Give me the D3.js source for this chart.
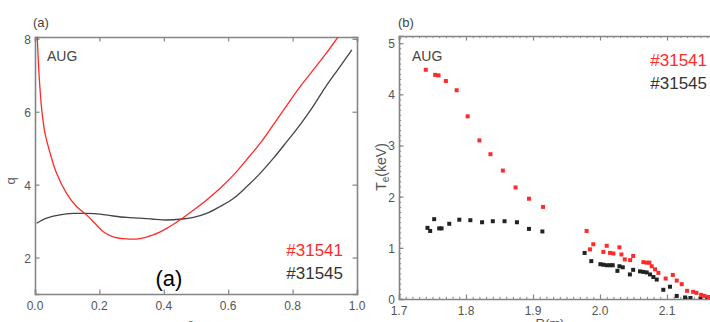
<!DOCTYPE html>
<html>
<head>
<meta charset="utf-8">
<script src="https://cdn.jsdelivr.net/npm/d3@7"></script>
<style>
  body { margin: 0; background: #fff; }
  svg { display: block; font-family: 'Liberation Sans', Arial, sans-serif; }
</style>
</head>
<body>
<div id="chart"></div>
<script>
// panel (a): safety factor q vs rho_tor
const rhoRed = [0.007, 0.013, 0.021, 0.031, 0.047, 0.067, 0.098, 0.129, 0.16, 0.186, 0.212, 0.243, 0.285, 0.326, 0.367, 0.409, 0.45, 0.492, 0.533, 0.575, 0.616, 0.657, 0.699, 0.74, 0.78, 0.82, 0.86, 0.90, 0.941]
const qRed = [8.05, 6.96, 6.05, 5.41, 4.86, 4.31, 3.76, 3.40, 3.17, 2.94, 2.71, 2.57, 2.51, 2.52, 2.62, 2.80, 3.03, 3.30, 3.58, 3.90, 4.26, 4.68, 5.13, 5.64, 6.15, 6.65, 7.1, 7.55, 8.05]
const rhoBlack = [0.005, 0.036, 0.078, 0.119, 0.16, 0.202, 0.243, 0.285, 0.326, 0.367, 0.409, 0.45, 0.492, 0.533, 0.575, 0.616, 0.657, 0.699, 0.74, 0.782, 0.823, 0.86, 0.90, 0.94, 0.984]
const qBlack = [2.94, 3.08, 3.17, 3.21, 3.21, 3.19, 3.14, 3.10, 3.08, 3.05, 3.03, 3.05, 3.10, 3.21, 3.40, 3.62, 3.94, 4.31, 4.72, 5.18, 5.64, 6.1, 6.65, 7.15, 7.7]

// panel (b): electron temperature vs R
const rRed = [1.740, 1.754, 1.759, 1.770, 1.786, 1.8025, 1.820, 1.8365, 1.855, 1.874, 1.894, 1.915,
  1.980, 1.985, 1.990, 2.005, 2.010, 2.015, 2.020, 2.029, 2.032, 2.037, 2.045, 2.0495, 2.0647, 2.0697, 2.0737,
  2.0772, 2.0822, 2.0872, 2.098, 2.1087, 2.1145, 2.122, 2.130, 2.139, 2.144, 2.151, 2.156, 2.162, 2.168]
const teRed = [4.48, 4.38, 4.37, 4.26, 4.08, 3.57, 3.10, 2.83, 2.51, 2.18, 1.96, 1.80,
  1.33, 0.97, 1.07, 0.92, 1.04, 0.90, 0.89, 1.01, 0.87, 0.775, 0.76, 0.84, 0.72, 0.71, 0.71,
  0.64, 0.58, 0.51, 0.40, 0.47, 0.36, 0.29, 0.16, 0.14, 0.12, 0.08, 0.06, 0.04, 0.03]
const rBlack = [1.7425, 1.7465, 1.7525, 1.760, 1.7635, 1.775, 1.790, 1.8065, 1.824, 1.840, 1.8575, 1.876, 1.894, 1.914,
  1.977, 1.987, 2.0006, 2.005, 2.010, 2.015, 2.019, 2.026, 2.029, 2.034, 2.0446, 2.0495, 2.0597, 2.0647, 2.0697,
  2.0747, 2.0797, 2.0847, 2.0945, 2.1045, 2.1145, 2.127, 2.135, 2.150, 2.160]
const teBlack = [1.39, 1.33, 1.56, 1.38, 1.38, 1.47, 1.55, 1.54, 1.50, 1.52, 1.52, 1.50, 1.37, 1.32,
  0.90, 0.74, 0.68, 0.67, 0.66, 0.66, 0.66, 0.55, 0.64, 0.62, 0.48, 0.57, 0.54, 0.53, 0.52,
  0.48, 0.43, 0.38, 0.18, 0.24, 0.06, 0.03, 0.02, 0.01, 0.01]

const xTicksA = [0, 0.2, 0.4, 0.6, 0.8, 1.0]
const yTicksA = [2, 4, 6, 8]
const xTicksB = [1.7, 1.8, 1.9, 2.0, 2.1]
const yTicksB = [0, 1, 2, 3, 4, 5]
const shots = ['#31541', '#31545']

const red = '#ff2a2a'
const dark = '#333'
const frameColor = '#858585'
const labelColor = '#555'

const svg = d3.select('#chart')
  .append('svg')
  .attr('width', 710)
  .attr('height', 322)

// Scales for both panels (panel b runs past the right edge, as in the source)
const xA = d3.scaleLinear().domain([0, 1]).range([35, 357])
const yA = d3.scaleLinear().domain([1, 8.05]).range([294, 37])
const xB = d3.scaleLinear().domain([1.7, 2.2]).range([399, 734])
const yB = d3.scaleLinear().domain([0, 5.14]).range([299, 36])

// Draw inward ticks on all four sides of a frame
function frameAxes(x, y, xMajor, yMajor, xMinorStep, yMinorStep, fmtX, fmtY) {
  const [x0, x1] = x.range()
  const [y0, y1] = y.range()
  const g = svg.append('g')
  const tl = 4.5

  const axes = [
    { gen: d3.axisBottom(x).tickValues(xMajor), tr: `translate(0,${y0})` },
    { gen: d3.axisTop(x).tickValues(xMajor), tr: `translate(0,${y1})` },
    { gen: d3.axisLeft(y).tickValues(yMajor), tr: `translate(${x0},0)` },
    { gen: d3.axisRight(y).tickValues(yMajor), tr: `translate(${x1},0)` }
  ]
  axes.forEach(a => {
    g.append('g')
      .attr('transform', a.tr)
      .call(a.gen.tickSize(-tl).tickFormat(''))
      .call(s => s.select('.domain').attr('stroke', frameColor).attr('stroke-width', 1.6))
      .call(s => s.selectAll('.tick line').attr('stroke', frameColor).attr('stroke-width', 1.2))
  })

  // minor ticks
  if (xMinorStep) {
    const n = Math.round((x.domain()[1] - x.domain()[0]) / xMinorStep)
    const vals = d3.range(n + 1).map(i => x.domain()[0] + i * xMinorStep)
    ;[y0, y1].forEach((yy, k) => {
      g.append('g')
        .attr('transform', `translate(0,${yy})`)
        .call((k === 0 ? d3.axisBottom(x) : d3.axisTop(x)).tickValues(vals).tickSize(-2.2).tickFormat(''))
        .call(s => s.select('.domain').remove())
        .call(s => s.selectAll('.tick line').attr('stroke', frameColor).attr('stroke-width', 1))
    })
  }
  if (yMinorStep) {
    const n = Math.round((y.domain()[1] - y.domain()[0]) / yMinorStep)
    const vals = d3.range(n + 1).map(i => y.domain()[0] + i * yMinorStep)
    ;[x0, x1].forEach((xx, k) => {
      g.append('g')
        .attr('transform', `translate(${xx},0)`)
        .call((k === 0 ? d3.axisLeft(y) : d3.axisRight(y)).tickValues(vals).tickSize(-2.2).tickFormat(''))
        .call(s => s.select('.domain').remove())
        .call(s => s.selectAll('.tick line').attr('stroke', frameColor).attr('stroke-width', 1))
    })
  }

  // tick labels
  g.selectAll('.xlab')
    .data(xMajor)
    .enter()
    .append('text')
    .attr('x', d => x(d))
    .attr('y', y0 + 16)
    .attr('text-anchor', 'middle')
    .attr('font-size', 12)
    .attr('fill', labelColor)
    .text(fmtX)
  g.selectAll('.ylab')
    .data(yMajor)
    .enter()
    .append('text')
    .attr('x', x0 - 4)
    .attr('y', d => y(d) + 5)
    .attr('text-anchor', 'end')
    .attr('font-size', 12)
    .attr('fill', labelColor)
    .text(fmtY)
}

frameAxes(xA, yA, xTicksA, yTicksA, null, null, d3.format('.1f'), d3.format('d'))
frameAxes(xB, yB, xTicksB, yTicksB, 0.01, 0.1, d3.format('.1f'), d3.format('d'))

// Clip paths so curves stay inside the frames
const defs = svg.append('defs')
defs.append('clipPath').attr('id', 'clipA')
  .append('rect').attr('x', 35).attr('y', 37).attr('width', 322).attr('height', 257)
defs.append('clipPath').attr('id', 'clipB')
  .append('rect').attr('x', 399).attr('y', 36).attr('width', 335).attr('height', 263)

// Panel (a) curves
const qLine = d3.line()
  .x(d => xA(d[0]))
  .y(d => yA(d[1]))
  .curve(d3.curveCatmullRom.alpha(0.5))

svg.append('path')
  .datum(d3.zip(rhoBlack, qBlack))
  .attr('clip-path', 'url(#clipA)')
  .attr('fill', 'none')
  .attr('stroke', '#444')
  .attr('stroke-width', 1.3)
  .attr('d', qLine)

svg.append('path')
  .datum(d3.zip(rhoRed, qRed))
  .attr('clip-path', 'url(#clipA)')
  .attr('fill', 'none')
  .attr('stroke', red)
  .attr('stroke-width', 1.3)
  .attr('d', qLine)

// Panel (b) points
const gB = svg.append('g').attr('clip-path', 'url(#clipB)')
gB.selectAll('.pb')
  .data(d3.zip(rBlack, teBlack))
  .enter()
  .append('rect')
  .attr('x', d => xB(d[0]) - 2)
  .attr('y', d => yB(d[1]) - 2)
  .attr('width', 4)
  .attr('height', 4)
  .attr('fill', '#222')
gB.selectAll('.pr')
  .data(d3.zip(rRed, teRed))
  .enter()
  .append('rect')
  .attr('x', d => xB(d[0]) - 2)
  .attr('y', d => yB(d[1]) - 2)
  .attr('width', 4)
  .attr('height', 4)
  .attr('fill', red)

// Panel titles and annotations
const txt = (x, y, s, size, fill, anchor) => svg.append('text')
  .attr('x', x).attr('y', y)
  .attr('font-size', size)
  .attr('fill', fill)
  .attr('text-anchor', anchor || 'start')
  .text(s)

txt(33, 27, '(a)', 13, '#444')
txt(398, 27, '(b)', 13, '#444')
txt(47, 61, 'AUG', 14, '#444')
txt(412, 61, 'AUG', 14, '#444')
txt(343, 256, shots[0], 17, red, 'end')
txt(343, 279, shots[1], 17, dark, 'end')
txt(707, 66, shots[0], 17, red, 'end')
txt(707, 89, shots[1], 17, dark, 'end')
txt(169, 286, '(a)', 22, '#000', 'middle')

// Axis titles (mostly cut off at the bottom edge, as in the source)
const rhoLab = svg.append('text')
  .attr('x', 196).attr('y', 328)
  .attr('text-anchor', 'middle')
  .attr('font-size', 13)
  .attr('fill', labelColor)
rhoLab.append('tspan').text('ρ')
rhoLab.append('tspan').attr('dy', 3).attr('font-size', 9).text('tor')

txt(550, 328, 'R(m)', 13, labelColor, 'middle')

svg.append('text')
  .attr('transform', 'translate(15,181) rotate(-90)')
  .attr('text-anchor', 'middle')
  .attr('font-size', 13)
  .attr('fill', labelColor)
  .text('q')

const teLab = svg.append('text')
  .attr('transform', 'translate(386,167) rotate(-90)')
  .attr('text-anchor', 'middle')
  .attr('font-size', 14)
  .attr('fill', labelColor)
teLab.append('tspan').text('T')
teLab.append('tspan').attr('dy', 3).attr('font-size', 10).text('e')
teLab.append('tspan').attr('dy', -3).text('(keV)')
</script>
</body>
</html>
